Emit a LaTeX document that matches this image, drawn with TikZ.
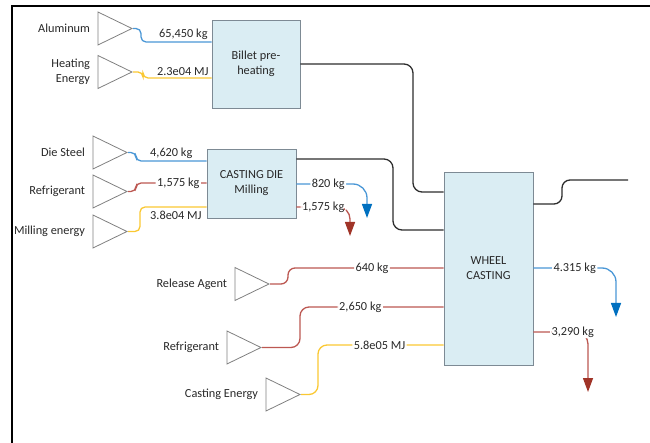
\documentclass[tikz,border=0pt]{standalone}
\usepackage{fontspec}
\setmainfont{Carlito}
\usetikzlibrary{arrows.meta, shapes.geometric, positioning}

\definecolor{flowblue}{RGB}{74,151,214}
\definecolor{tipblue}{RGB}{0,112,192}
\definecolor{flowred}{RGB}{188,88,82}
\definecolor{tipred}{RGB}{160,52,40}
\definecolor{flowyellow}{RGB}{250,200,50}
\definecolor{flowdark}{RGB}{45,45,45}
\definecolor{procfill}{RGB}{218,237,243}
\definecolor{procline}{RGB}{125,138,148}
\definecolor{srcline}{RGB}{128,128,128}
\definecolor{txt}{RGB}{40,40,40}

\begin{document}
\begin{tikzpicture}[x=1pt, y=-1pt,
    font=\fontsize{12.3}{15}\selectfont, text=txt,
    proc/.style={draw=procline, fill=procfill, line width=0.9pt, align=center, inner sep=0pt},
    src/.style={isosceles triangle, isosceles triangle stretches, draw=srcline, fill=white,
        minimum width=33pt, minimum height=34pt, inner sep=0pt, line width=0.8pt, anchor=apex},
    flow/.style={line width=1.3pt, rounded corners=5pt},
    qty/.style={inner sep=1.5pt, text=txt},
    inline/.style={fill=white, inner sep=1.5pt, text=txt},
    bluetip/.style={-{Triangle[length=14pt, width=10pt, color=tipblue]}},
    redtip/.style={-{Triangle[length=14pt, width=10pt, color=tipred]}}]

    \useasboundingbox (0,0) rectangle (650,443);

    % --- Frame ---
    \draw[line width=2.2pt] (650,6) -- (12,6) -- (12,443);

    % --- Process boxes ---
    \node[proc, minimum width=88pt, minimum height=88pt] (billet) at (256,64) {Billet pre-\\heating};
    \node[proc, minimum width=89pt, minimum height=69pt] (die) at (251.5,183.5) {CASTING DIE\\Milling};
    \node[proc, minimum width=89pt, minimum height=193pt] (wheel) at (488.5,268.5) {WHEEL\\CASTING};

    % --- Sources for billet pre-heating ---
    \node[src] (alTri) at (133,28.5) {};
    \node[left=4pt of alTri] (alLbl) {Aluminum};
    \node[src] (heatTri) at (133,72) {};
    \node[left=4pt of heatTri, align=right] (heatLbl) {Heating\\Energy};

    \draw[flow, flowblue] (alTri.apex) -- (141,28.5) -- (141,42) -- (billet.west |- 0,42)
        node[qty, above, pos=0.6] (alQty) {65,450 kg};
    \draw[flow, flowyellow] (heatTri.apex) -- (143,72) -- (143,78) -- (billet.west |- 0,78)
        node[qty, above, pos=0.58] (heatQty) {2.3e04 MJ};

    % --- Sources for die milling ---
    \node[src] (steelTri) at (128,152.5) {};
    \node[left=4pt of steelTri] (steelLbl) {Die Steel};
    \node[src] (coolTri) at (128,191.5) {};
    \node[left=4pt of coolTri] (coolLbl) {Refrigerant};
    \node[src] (millTri) at (128,231.5) {};
    \node[left=4pt of millTri] (millLbl) {Milling energy};

    \draw[flow, flowblue] (steelTri.apex) -- (136,152.5) -- (136,161) -- (die.west |- 0,161)
        node[qty, above, pos=0.5] (steelQty) {4,620 kg};
    \draw[flow, flowred] (coolTri.apex) -- (136,191.5) -- (136,183) -- (die.west |- 0,183)
        node[inline, pos=0.6] (coolQty) {1,575 kg};
    \draw[flow, flowyellow] (millTri.apex) -- (140,231.5) -- (140,207) -- (die.west |- 0,207)
        node[qty, below=2pt, pos=0.54] (millQty) {3.8e04 MJ};

    % --- Die milling outputs ---
    \draw[flow, flowblue, bluetip, rounded corners=14pt] (die.east |- 0,184) -- (367,184)
        node[inline, pos=0.45] (chipQty) {820 kg} -- (367,218);
    \draw[flow, flowred, redtip, rounded corners=12pt] (die.east |- 0,207) -- (350,207)
        node[inline, pos=0.5] (wasteQty) {1,575 kg} -- (350,236);

    % --- Links into wheel casting ---
    \draw[flow, flowdark, rounded corners=9pt] (billet.east) -- (413,64) -- (413,192) -- (wheel.west |- 0,192);
    \draw[flow, flowdark, rounded corners=9pt] (die.east |- 0,159) -- (393,159) -- (393,230) -- (wheel.west |- 0,230);

    % --- Sources for wheel casting ---
    \node[src] (relTri) at (270,284) {};
    \node[left=4pt of relTri] (relLbl) {Release Agent};
    \node[src] (cool2Tri) at (262,347.5) {};
    \node[left=4pt of cool2Tri] (cool2Lbl) {Refrigerant};
    \node[src] (castTri) at (301,394.5) {};
    \node[left=4pt of castTri] (castLbl) {Casting Energy};

    \draw[flow, flowred, rounded corners=7pt] (relTri.apex) -- (288,284) -- (288,268) -- (wheel.west |- 0,268)
        node[inline, pos=0.54] (relQty) {640 kg};
    \draw[flow, flowred, rounded corners=9pt] (cool2Tri.apex) -- (300,347.5) -- (300,307) -- (wheel.west |- 0,307)
        node[inline, pos=0.42] (cool2Qty) {2,650 kg};
    \draw[flow, flowyellow, rounded corners=9pt] (castTri.apex) -- (318,394.5) -- (318,345) -- (wheel.west |- 0,345)
        node[inline, pos=0.49] (castQty) {5.8e05 MJ};

    % --- Wheel casting outputs ---
    \coordinate (wheelOut) at (628,180);
    \draw[flow, flowdark, rounded corners=8pt] (wheel.east |- 0,204) -- (562,204) -- (562,180) -- (wheelOut);
    \draw[flow, flowblue, bluetip, rounded corners=14pt] (wheel.east |- 0,268) -- (616,268)
        node[inline, pos=0.5] (wheelBlueQty) {4.315 kg} -- (616,317);
    \draw[flow, flowred, redtip, rounded corners=12pt] (wheel.east |- 0,332) -- (588,332)
        node[inline, pos=0.72] (wheelRedQty) {3,290 kg} -- (588,392);
\end{tikzpicture}
\end{document}
